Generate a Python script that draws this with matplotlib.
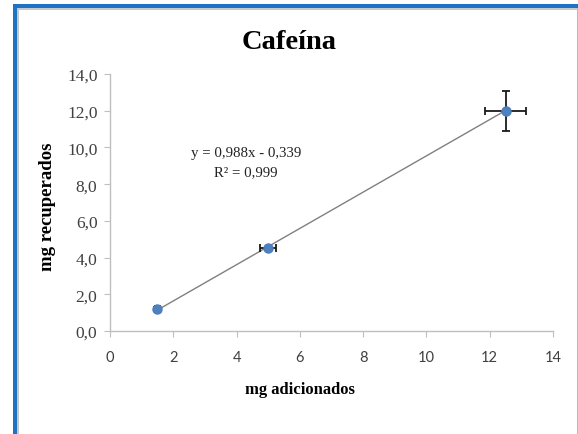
import matplotlib
matplotlib.use("Agg")
import matplotlib.pyplot as plt
from matplotlib.patches import Rectangle
import numpy as np

plt.rcParams['font.family'] = ['Liberation Serif', 'DejaVu Serif']

# data
mg_adicionados = [1.5, 5.0, 12.5]
mg_recuperados = [1.2, 4.5, 12.0]
err_x = [0.08, 0.26, 0.65]
err_y = [0.1, 0.1, 1.1]
slope = 0.988
intercept = -0.339
r2 = 0.999
xticks = [0, 2, 4, 6, 8, 10, 12, 14]
yticks = [0, 2, 4, 6, 8, 10, 12, 14]

W, H = 578, 435
fig = plt.figure(figsize=(W / 100, H / 100), dpi=100)

# frame around the chart
def px_rect(x0, y0, x1, y1, color):
    fig.add_artist(Rectangle((x0 / W, 1 - y1 / H), (x1 - x0) / W, (y1 - y0) / H,
                             transform=fig.transFigure, color=color, lw=0, zorder=0))

px_rect(13, 5, 17, H, '#1F73C4')
px_rect(13, 5, W, 9, '#1F73C4')
px_rect(17, 9, 18.5, H, '#C8C8C8')
px_rect(17, 9, W, 10.5, '#C8C8C8')
px_rect(576.5, 9, W, H, '#9DC3E6')

ax = fig.add_axes([110 / W, 1 - 332 / H, (553 - 110) / W, (332 - 75) / H])

xs = np.array([mg_adicionados[0], mg_adicionados[-1]])
ax.plot(xs, slope * xs + intercept, color='#808080', lw=1, zorder=2)

ax.errorbar(mg_adicionados, mg_recuperados, xerr=err_x, yerr=err_y,
            fmt='none', ecolor='#1a1a1a', elinewidth=1.3, capsize=2.7, capthick=1.3, zorder=3)
ax.plot(mg_adicionados, mg_recuperados, 'o', color='#4F81BD', mec='#4A7EC0',
        ms=6.5, zorder=4)

ax.set_xlim(0, 14)
ax.set_ylim(0, 14)
ax.set_xticks(xticks)
ax.set_yticks(yticks)
ax.set_xticklabels([str(t) for t in xticks], family=['Lato', 'DejaVu Sans'],
                   fontsize=10.5)
ax.set_yticklabels([f"{t:.1f}".replace('.', ',') for t in yticks], fontsize=12.5)

for s in ['top', 'right']:
    ax.spines[s].set_visible(False)
for s in ['left', 'bottom']:
    ax.spines[s].set_color('#BFBFBF')
    ax.spines[s].set_linewidth(1)
ax.tick_params(direction='out', length=4, color='#BFBFBF', labelcolor='#404040')
ax.tick_params(axis='x', pad=10)
ax.tick_params(axis='y', pad=5)

eq = f"y = {slope:.3f}x - {abs(intercept):.3f}".replace('.', ',')
ax.text(4.3, 9.75, eq, ha='center', va='center', fontsize=10.7, color='#222222')
ax.text(4.3, 8.7, f"R² = {r2:.3f}".replace('.', ','), ha='center', va='center',
        fontsize=10.7, color='#222222')

fig.text(289 / W, 1 - 49 / H, "Cafeína", ha='center', va='baseline',
         fontsize=20.5, fontweight='bold')
fig.text(300 / W, 1 - 390 / H, "mg adicionados", ha='center', va='center',
         fontsize=12, fontweight='bold')
fig.text(47 / W, 1 - 207 / H, "mg recuperados", ha='center', va='center',
         fontsize=13.5, fontweight='bold', rotation=90)

fig.savefig("out.png", dpi=100)
